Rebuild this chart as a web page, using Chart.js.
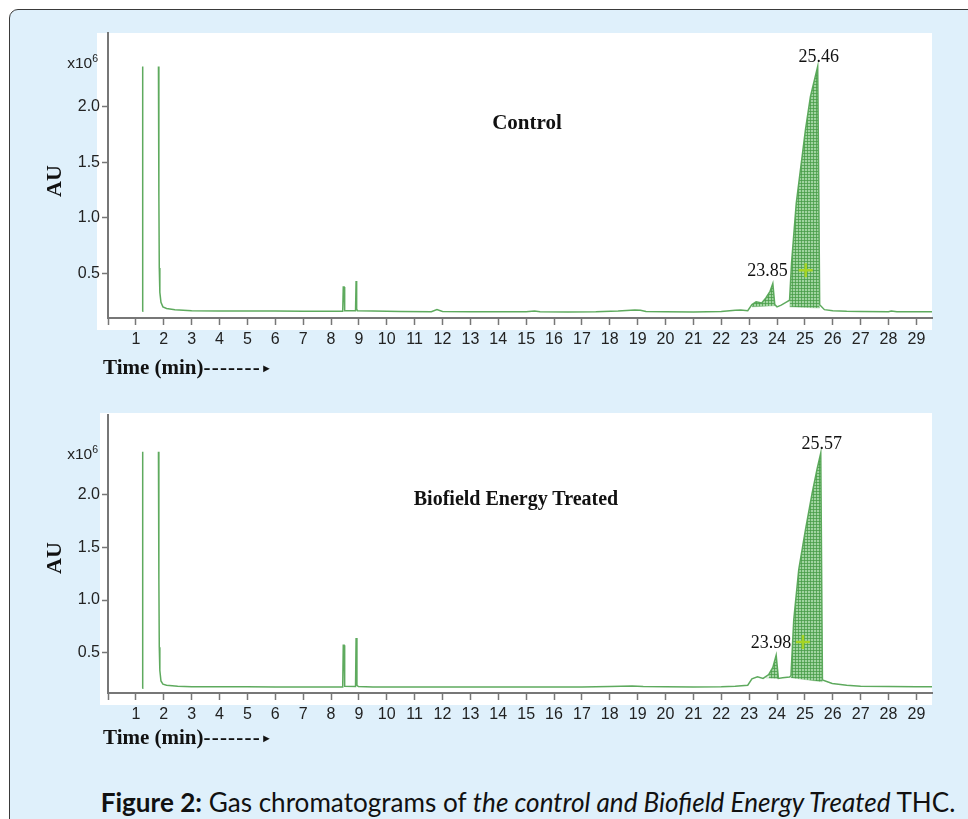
<!DOCTYPE html>
<html><head><meta charset="utf-8">
<script src="https://cdn.jsdelivr.net/npm/chart.js@4.4.1/dist/chart.umd.min.js"></script>
<style>
html,body{margin:0;padding:0;width:968px;height:819px;overflow:hidden;background:#fff;}
#frame{position:absolute;left:9px;top:9px;width:1000px;height:900px;background:#dff0fb;border:1.5px solid #3a3a3a;border-radius:9px;box-sizing:border-box;}
.abs{position:absolute;white-space:nowrap;}
.serifb{font-family:"Liberation Serif","Times New Roman",serif;font-weight:bold;color:#111;}
.sans{font-family:"Liberation Sans",Arial,sans-serif;color:#222;}
canvas{position:absolute;left:0;}
</style></head>
<body>
<div id="frame"></div>
<canvas id="c1" width="968" height="380" style="top:0px"></canvas>
<canvas id="c2" width="968" height="360" style="top:380px"></canvas>

<div class="abs sans" style="right:870px;top:54px;font-size:15.5px;">x10<sup style="font-size:10.5px;vertical-align:6px;line-height:0">6</sup></div>
<div class="abs sans" style="right:870px;top:445px;font-size:15.5px;">x10<sup style="font-size:10.5px;vertical-align:6px;line-height:0">6</sup></div>
<div class="abs serifb" style="left:54px;top:181px;font-size:22px;transform:translate(-50%,-50%) rotate(-90deg);">AU</div>
<div class="abs serifb" style="left:54px;top:558px;font-size:22px;transform:translate(-50%,-50%) rotate(-90deg);">AU</div>
<div class="abs serifb" style="left:527px;top:122px;font-size:21px;transform:translate(-50%,-50%);">Control</div>
<div class="abs serifb" style="left:516px;top:498px;font-size:20px;transform:translate(-50%,-50%);">Biofield Energy Treated</div>
<div class="abs serifb" style="left:103px;top:355px;font-size:21px;">Time (min)<span style="letter-spacing:1.2px">-------</span><span style="font-size:11px;vertical-align:2px">&#9658;</span></div>
<div class="abs serifb" style="left:103px;top:725px;font-size:21px;">Time (min)<span style="letter-spacing:1.2px">-------</span><span style="font-size:11px;vertical-align:2px">&#9658;</span></div>
<div id="cap" class="abs" style="left:0;width:1056px;text-align:center;top:786px;font-family:Lato,'Open Sans',sans-serif;font-size:22px;color:#111;"><span id="capin"><b>Figure 2:</b> Gas chromatograms of <i>the control and Biofield Energy Treated</i> THC.</span></div>

<script>
// ---- data (retention time in min, response in AU x10^6) ----
const xTicks = [0,1,2,3,4,5,6,7,8,9,10,11,12,13,14,15,16,17,18,19,20,21,22,23,24,25,26,27,28,29];
const yTicks = [0.5,1.0,1.5,2.0];

const controlTime = [1.23,1.24,1.25,1.5,1.81,1.825,1.84,1.86,1.9,1.97,2.1,2.4,3.0,4.0,5.0,6.0,7.0,7.8,8.42,8.44,8.47,8.49,8.88,8.9,8.92,8.95,9.5,10.5,11.6,11.8,12.0,13.0,14.0,15.0,15.3,15.5,16.5,17.5,18.3,18.9,19.1,19.3,20.0,21.0,22.0,22.5,22.7,22.95,23.1,23.25,23.45,23.6,23.75,23.85,23.92,24.0,24.15,24.35,24.45,24.52,24.69,25.02,25.2,25.46,25.5,25.53,25.7,26.0,26.5,27.0,28.0,28.1,28.3,29.0,29.56];
const controlAU   = [0.16,2.36,0.16,null,2.36,1.2,0.55,0.33,0.24,0.2,0.185,0.175,0.165,0.163,0.162,0.162,0.161,0.16,0.16,0.378,0.378,0.165,0.165,0.432,0.18,0.166,0.162,0.158,0.157,0.175,0.158,0.156,0.156,0.156,0.162,0.156,0.155,0.156,0.162,0.172,0.17,0.158,0.156,0.155,0.158,0.17,0.172,0.165,0.22,0.245,0.235,0.28,0.34,0.41,0.22,0.2,0.215,0.245,0.26,0.59,1.13,1.79,2.09,2.36,1.2,0.22,0.175,0.165,0.16,0.158,0.157,0.163,0.157,0.156,0.156];

const treatedTime = [1.23,1.24,1.25,1.5,1.81,1.825,1.84,1.86,1.9,1.97,2.1,2.5,3.0,4.0,5.0,6.0,7.0,7.8,8.42,8.44,8.47,8.49,8.88,8.9,8.93,8.98,9.5,10.5,12.0,13.0,14.0,15.0,16.0,17.0,18.0,18.8,19.2,20.0,21.0,22.0,22.5,22.95,23.1,23.3,23.5,23.7,23.85,23.97,24.05,24.2,24.45,24.5,24.6,24.78,25.02,25.26,25.44,25.57,25.6,25.63,25.98,26.5,27.0,28.0,29.0,29.56];
const treatedAU   = [0.162,2.41,0.162,null,2.41,1.2,0.55,0.33,0.23,0.2,0.19,0.18,0.176,0.175,0.175,0.174,0.174,0.172,0.172,0.571,0.571,0.18,0.178,0.638,0.19,0.178,0.174,0.172,0.172,0.172,0.172,0.172,0.173,0.174,0.178,0.182,0.178,0.175,0.174,0.176,0.18,0.19,0.25,0.27,0.255,0.29,0.36,0.476,0.255,0.262,0.268,0.28,0.81,1.29,1.667,2.016,2.25,2.4,1.3,0.24,0.207,0.19,0.18,0.177,0.175,0.175];

// integrated peak windows and their baselines
const controlAreaStart = [23.1, 24.45];
const controlAreaEnd   = [23.92, 25.53];
const controlBaseStart = [0.2, 0.2];
const controlBaseEnd   = [0.21, 0.19];
const treatedAreaStart = [23.6, 24.48];
const treatedAreaEnd   = [24.05, 25.63];
const treatedBaseStart = [0.26, 0.262];
const treatedBaseEnd   = [0.255, 0.222];

// peak apex labels
const controlPeakTime  = [23.85, 25.46];
const controlPeakAU    = [0.41, 2.36];
const controlPeakText  = ['23.85', '25.46'];
const treatedPeakTime  = [23.97, 25.57];
const treatedPeakAU    = [0.476, 2.4];
const treatedPeakText  = ['23.98', '25.57'];

// integration markers
const controlMark = [{x:25.03, y:0.53}];
const treatedMark = [{x:24.93, y:0.6}];

// ---- drawing ----
function makePattern(){
  const p = document.createElement('canvas'); p.width = 3; p.height = 3;
  const c = p.getContext('2d');
  c.fillStyle = 'rgb(160,212,160)'; c.fillRect(0,0,3,3);
  c.fillStyle = 'rgba(70,155,70,0.75)'; c.fillRect(0,0,3,1); c.fillRect(0,0,1,3);
  return document.createElement('canvas').getContext('2d').createPattern(p,'repeat');
}
const pattern = makePattern();

const whiteBg = {
  id:'whiteBg',
  beforeDraw(chart, args, o){
    const a = chart.chartArea, ctx = chart.ctx;
    ctx.save(); ctx.fillStyle = '#fff';
    ctx.fillRect(a.left - o.l, a.top - o.t, a.right - a.left + o.l, a.bottom - a.top + o.t + o.b);
    ctx.restore();
  }
};
const peakLabels = {
  id:'peakLabels',
  afterDatasetsDraw(chart, args, o){
    const ctx = chart.ctx, xs = chart.scales.x, ys = chart.scales.y;
    ctx.save();
    ctx.font = '18px "Liberation Serif", "Times New Roman", serif';
    ctx.fillStyle = '#111'; ctx.textBaseline = 'middle';
    o.times.forEach((t,i)=>{
      const px = xs.getPixelForValue(t), py = ys.getPixelForValue(o.values[i]);
      if (i === 0) { ctx.textAlign = 'right'; ctx.fillText(o.texts[i], px + 15, py - 12); }
      else { ctx.textAlign = 'center'; ctx.fillText(o.texts[i], px + 1, py - 9); }
    });
    ctx.restore();
  }
};

function buildDatasets(time, au, aS, aE, bS, bE, mark){
  const trace = time.map((t,i)=>({x:t, y:au[i]}));
  const ds = [{data:trace, borderColor:'rgba(85,165,85,0.95)', borderWidth:1.5, pointRadius:0, fill:false, spanGaps:false, tension:0, order:0}];
  aS.forEach((s,i)=>{
    const pts = trace.filter(p => p.y !== null && p.x >= s && p.x <= aE[i]);
    ds.push({data:pts, borderColor:'rgba(0,0,0,0)', borderWidth:0, pointRadius:0, backgroundColor:pattern, fill:'+1', order:2});
    ds.push({data:[{x:s, y:bS[i]}, {x:aE[i], y:bE[i]}], borderColor:'rgba(70,155,70,0.5)', borderWidth:0.6, pointRadius:0, fill:false, order:2});
  });
  ds.push({data:mark, showLine:false, pointStyle:'cross', pointRadius:7, borderColor:'#a6d424', borderWidth:2.5, fill:false, order:-1});
  return ds;
}

function makeOpts(padTop, xHeight, yMin, yMax, bg, labels){
  const tickFont = {family:'"Liberation Sans", Arial, sans-serif', size:16};
  return {
    responsive:false, animation:false, events:[],
    layout:{padding:{top:padTop, right:36, left:0, bottom:0}},
    plugins:{legend:{display:false}, tooltip:{enabled:false}, whiteBg:bg, peakLabels:labels},
    scales:{
      x:{type:'linear', min:0, max:29.56,
        afterBuildTicks: s => { s.ticks = xTicks.map(v => ({value:v})); },
        afterFit: s => { s.height = xHeight; },
        ticks:{autoSkip:false, maxRotation:0, includeBounds:false, padding:5, color:'#222', font:tickFont,
          callback: v => (v === 0 ? '' : String(v))},
        grid:{drawOnChartArea:false, drawTicks:true, tickLength:7, tickColor:'#777', tickWidth:1.5},
        border:{display:true, color:'#777', width:2}},
      y:{type:'linear', min:yMin, max:yMax,
        afterBuildTicks: s => { s.ticks = yTicks.map(v => ({value:v})); },
        afterFit: s => { s.width = 108; },
        ticks:{padding:2, color:'#222', font:tickFont, callback: v => v.toFixed(1)},
        grid:{drawOnChartArea:false, drawTicks:true, tickLength:6, tickColor:'#777', tickWidth:1.5},
        border:{display:true, color:'#777', width:2}}
    }
  };
}

new Chart(document.getElementById('c1'), {
  type:'line',
  data:{datasets:buildDatasets(controlTime, controlAU, controlAreaStart, controlAreaEnd, controlBaseStart, controlBaseEnd, controlMark)},
  options:makeOpts(33, 62, 0.1, 2.66, {l:11, t:0, b:12}, {times:controlPeakTime, values:controlPeakAU, texts:controlPeakText}),
  plugins:[whiteBg, peakLabels]
});
new Chart(document.getElementById('c2'), {
  type:'line',
  data:{datasets:buildDatasets(treatedTime, treatedAU, treatedAreaStart, treatedAreaEnd, treatedBaseStart, treatedBaseEnd, treatedMark)},
  options:makeOpts(35, 47, 0.116, 2.76, {l:8, t:2, b:12}, {times:treatedPeakTime, values:treatedPeakAU, texts:treatedPeakText}),
  plugins:[whiteBg, peakLabels]
});

// fit caption width to the reference
const capin = document.getElementById('capin');
const w = capin.getBoundingClientRect().width;
document.getElementById('cap').style.fontSize = (22 * 855 / w).toFixed(2) + 'px';
</script>
</body></html>
